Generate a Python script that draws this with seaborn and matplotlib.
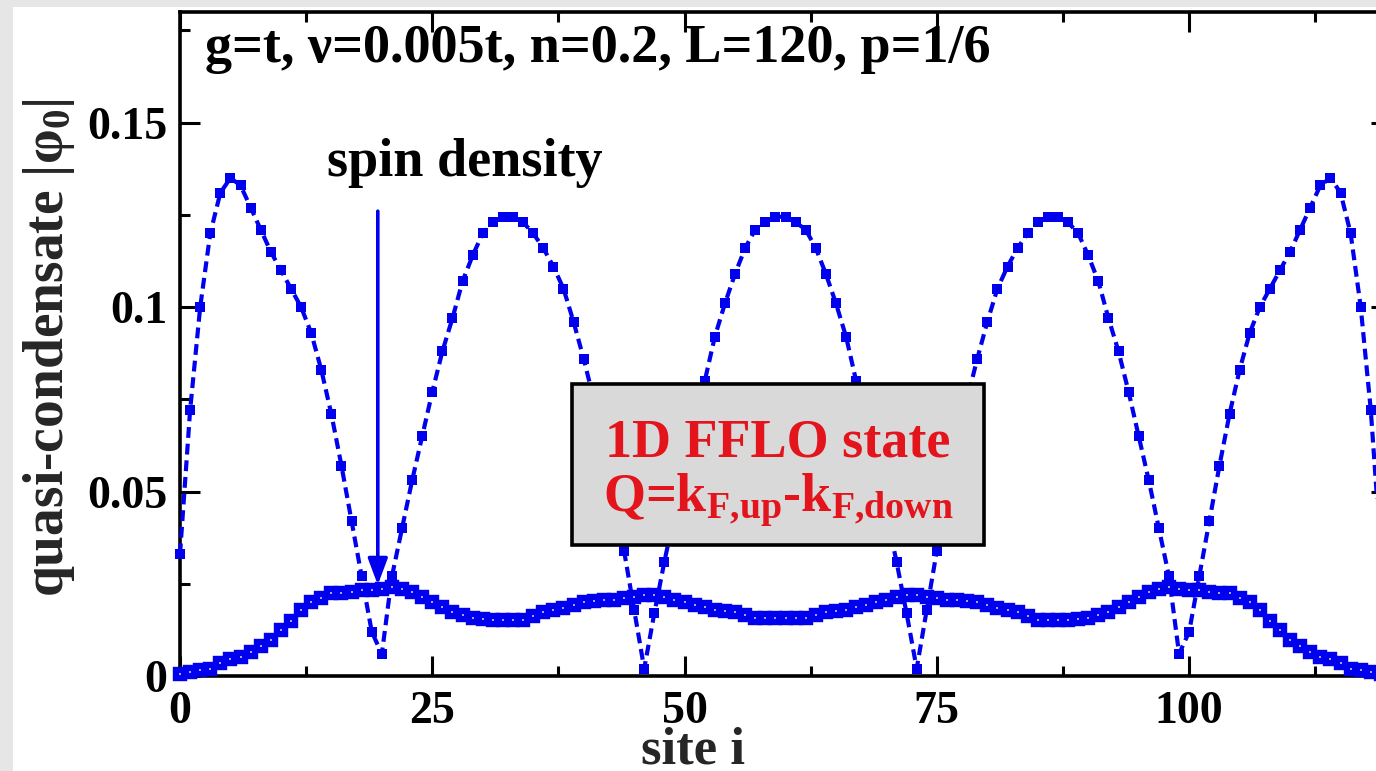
import matplotlib
matplotlib.use("Agg")
import matplotlib.pyplot as plt
from matplotlib.patches import Rectangle
from matplotlib.ticker import MultipleLocator, FixedLocator, FixedFormatter
import numpy as np
import pandas as pd
import seaborn as sns

# ---------------- data ----------------
sites = list(range(120))

condensate = [
    0.033, 0.072, 0.100, 0.120, 0.131, 0.135, 0.133, 0.127, 0.121, 0.115,
    0.110, 0.105, 0.100, 0.093, 0.083, 0.071, 0.057, 0.042, 0.027, 0.012,
    0.006, 0.027, 0.040, 0.053, 0.065, 0.077, 0.088, 0.097, 0.107, 0.114,
    0.120, 0.123, 0.1245, 0.1245, 0.123, 0.120, 0.116, 0.111, 0.105, 0.096,
    0.086, 0.075, 0.063, 0.049, 0.034, 0.018, 0.002, 0.017, 0.031, 0.044,
    0.056, 0.068, 0.080, 0.092, 0.101, 0.109, 0.116, 0.121, 0.123, 0.1245,
    0.1245, 0.123, 0.121, 0.116, 0.109, 0.101, 0.092, 0.080, 0.068, 0.056,
    0.044, 0.031, 0.017, 0.002, 0.018, 0.034, 0.049, 0.063, 0.075, 0.086,
    0.096, 0.105, 0.111, 0.116, 0.120, 0.123, 0.1245, 0.1245, 0.123, 0.120,
    0.114, 0.107, 0.097, 0.088, 0.077, 0.065, 0.053, 0.040, 0.027, 0.006,
    0.012, 0.027, 0.042, 0.057, 0.071, 0.083, 0.093, 0.100, 0.105, 0.110,
    0.115, 0.121, 0.127, 0.133, 0.135, 0.131, 0.120, 0.100, 0.072, 0.033,
]

spin_density = [
    0.0005, 0.0010, 0.0015, 0.0020, 0.0035, 0.0045, 0.0052, 0.0065, 0.0080, 0.0098,
    0.0125, 0.0150, 0.0180, 0.0200, 0.0212, 0.0224, 0.0226, 0.0227, 0.0232, 0.0234,
    0.0236, 0.0240, 0.0236, 0.0228, 0.0215, 0.0200, 0.0186, 0.0174, 0.0165, 0.0158,
    0.0154, 0.0152, 0.0151, 0.0151, 0.0152, 0.0162, 0.0174, 0.0180, 0.0185, 0.0193,
    0.0200, 0.0203, 0.0205, 0.0207, 0.0211, 0.0215, 0.0220, 0.0220, 0.0214, 0.0207,
    0.0200, 0.0193, 0.0186, 0.0180, 0.0177, 0.0174, 0.0165, 0.0158, 0.0157, 0.0156,
    0.0156, 0.0157, 0.0158, 0.0165, 0.0174, 0.0177, 0.0180, 0.0186, 0.0193, 0.0200,
    0.0207, 0.0214, 0.0220, 0.0220, 0.0215, 0.0211, 0.0207, 0.0205, 0.0203, 0.0200,
    0.0193, 0.0185, 0.0180, 0.0174, 0.0162, 0.0152, 0.0151, 0.0151, 0.0152, 0.0154,
    0.0158, 0.0165, 0.0174, 0.0186, 0.0200, 0.0215, 0.0228, 0.0236, 0.0240, 0.0236,
    0.0234, 0.0232, 0.0227, 0.0226, 0.0224, 0.0212, 0.0200, 0.0180, 0.0150, 0.0125,
    0.0098, 0.0080, 0.0065, 0.0052, 0.0045, 0.0035, 0.0020, 0.0015, 0.0010, 0.0005,
]

x_ticks = [0, 25, 50, 75, 100]
x_tick_labels = ["0", "25", "50", "75", "100"]
y_ticks = [0, 0.05, 0.1, 0.15]
y_tick_labels = ["0", "0.05", "0.1", "0.15"]

title_text = "g=t, ν=0.005t, n=0.2, L=120, p=1/6"
arrow_label = "spin density"
box_line1 = "1D FFLO state"
box_line2 = r"Q=k$_{F{,}up}$-k$_{F{,}down}$"
x_label = "site i"
y_label = "quasi-condensate |φ$_0$|"

# ---------------- style ----------------
sns.set_theme(style="ticks")
plt.rcParams["font.family"] = ["Liberation Serif", "DejaVu Serif"]
plt.rcParams.update({
    "font.weight": "bold",
    "axes.labelweight": "bold",
    "mathtext.fontset": "custom",
    "mathtext.rm": "Liberation Serif:bold",
    "mathtext.it": "Liberation Serif:bold",
    "mathtext.bf": "Liberation Serif:bold",
})

BLUE = "#0000ee"
RED = "#e3141c"

fig = plt.figure(figsize=(13.76, 7.71), dpi=100, facecolor="#e6e6e6")
fig.patches.append(Rectangle((13 / 1376, 0), 1, 764 / 771, transform=fig.transFigure,
                             facecolor="white", edgecolor="none", zorder=-100))
ax = fig.add_axes([180 / 1376, 95 / 771, 1211 / 1376, 664 / 771])
ax.set_zorder(5)
ax.set_facecolor("white")

df = pd.DataFrame({"site": sites, "condensate": condensate, "spin": spin_density})

sns.lineplot(data=df, x="site", y="condensate", ax=ax, color=BLUE,
             linestyle=(0, (2.6, 1.4)), linewidth=3.0, marker="s", markersize=7.4,
             markeredgewidth=0, markerfacecolor=BLUE, clip_on=False, zorder=3)
sns.lineplot(data=df, x="site", y="spin", ax=ax, color=BLUE,
             linewidth=3.5, marker="s", markersize=6.4, markeredgewidth=4.6,
             markerfacecolor="white", markeredgecolor=BLUE, clip_on=False, zorder=4)

ax.set_xlim(0, 120)
ax.set_ylim(0, 0.18)
ax.xaxis.set_major_locator(FixedLocator(x_ticks))
ax.xaxis.set_major_formatter(FixedFormatter(x_tick_labels))
ax.yaxis.set_major_locator(FixedLocator(y_ticks))
ax.yaxis.set_major_formatter(FixedFormatter(y_tick_labels))
ax.xaxis.set_minor_locator(MultipleLocator(12.5))
ax.yaxis.set_minor_locator(MultipleLocator(0.025))
ax.tick_params(which="both", direction="in", top=True, right=True, width=2.2,
               color="black", labelsize=33, labelcolor="black")
ax.tick_params(which="major", length=14.5)
ax.tick_params(which="minor", length=7.5)
ax.tick_params(axis="y", pad=9)
ax.tick_params(axis="x", pad=11)
for s in ax.spines.values():
    s.set_linewidth(2.6)
    s.set_color("black")
    s.set_visible(True)

ax.set_xlabel(x_label, fontsize=38)
ax.xaxis.set_label_coords((693 - 180) / 1211, -88 / 664)
ax.xaxis.label.set_verticalalignment("baseline")
ax.set_ylabel(y_label, fontsize=40)
ax.yaxis.set_label_coords(-(180 - 49) / 1211, (676 - 348) / 664)
ax.yaxis.label.set_verticalalignment("center")

ax.text(2.5, 0.170, title_text, fontsize=39, ha="left", va="center", color="black")
ax.text(14.6, 0.139, arrow_label, fontsize=39, ha="left", va="center", color="black")
ax.annotate("", xy=(19.6, 0.0247), xytext=(19.6, 0.126),
            arrowprops=dict(arrowstyle="-|>,head_length=0.8,head_width=0.3",
                            color=BLUE, lw=2.6, mutation_scale=20,
                            shrinkA=0, shrinkB=0), zorder=5)

ax.add_patch(Rectangle((38.8, 0.0356), 40.9, 0.0435, facecolor="#d9d9d9",
                       edgecolor="black", linewidth=2.6, zorder=6))
ax.text(59.25, 0.0630, box_line1, fontsize=39, ha="center", va="center",
        color=RED, zorder=7)
ax.text(59.25, 0.0475, box_line2, fontsize=39, ha="center", va="center",
        color=RED, zorder=7)

fig.savefig("out.png", dpi=100, facecolor=fig.get_facecolor())
